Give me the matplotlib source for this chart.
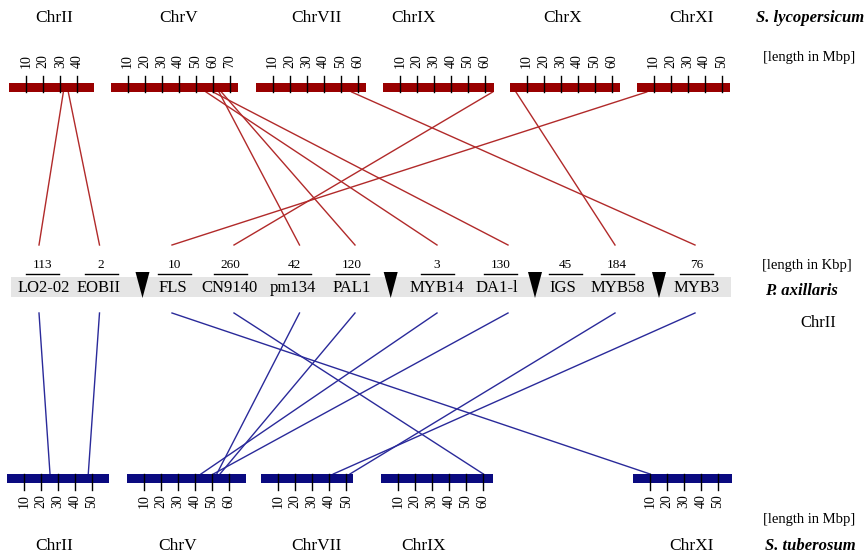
import matplotlib.pyplot as plt
from matplotlib.patches import Rectangle, Polygon

plt.rcParams['font.family'] = ['Liberation Serif', 'DejaVu Serif']

# ---- data ----
top_chroms = ['ChrII', 'ChrV', 'ChrVII', 'ChrIX', 'ChrX', 'ChrXI']
top_lengths = [50, 75, 65, 65, 65, 55]          # Mbp
bot_chroms = ['ChrII', 'ChrV', 'ChrVII', 'ChrIX', 'ChrXI']
bot_lengths = [60, 70, 54, 66, 58]              # Mbp

genes = ['LO2-02', 'EOBII', 'FLS', 'CN9140', 'pm134', 'PAL1',
         'MYB14', 'DA1-l', 'IGS', 'MYB58', 'MYB3']
gene_kbp = ['113', '2', '10', '260', '42', '120', '3', '130', '45', '184', '76']

# S. lycopersicum links (gene, chromosome, position in Mbp)
top_gene = ['LO2-02', 'EOBII', 'MYB14', 'DA1-l', 'pm134', 'PAL1',
            'MYB3', 'CN9140', 'MYB58', 'FLS']
top_chr = ['ChrII', 'ChrII', 'ChrV', 'ChrV', 'ChrV', 'ChrV',
           'ChrVII', 'ChrIX', 'ChrX', 'ChrXI']
top_pos = [31.8, 34.7, 56.1, 60.2, 63.7, 65.1, 56.5, 64.5, 3.8, 6.0]

# S. tuberosum links
bot_gene = ['LO2-02', 'EOBII', 'MYB14', 'DA1-l', 'pm134', 'PAL1',
            'MYB3', 'MYB58', 'CN9140', 'FLS']
bot_chr = ['ChrII', 'ChrII', 'ChrV', 'ChrV', 'ChrV', 'ChrV',
           'ChrVII', 'ChrVII', 'ChrIX', 'ChrXI']
bot_pos = [25.3, 47.8, 43.5, 50.8, 52.8, 54.7, 42.4, 52.2, 60.2, 10.0]

# ---- layout (pixels) ----
SCALE = 1.7                                   # px per Mbp
top_x0 = [9.3, 110.7, 255.6, 383, 509.5, 636.5]
top_title_x = [54, 179, 316, 414, 563, 692]
bot_x0 = [7, 127, 261.2, 381, 633]
bot_title_x = [54, 178, 316, 423, 692]
gene_x = [43.8, 99, 173, 229, 293, 352, 437, 497, 562.5, 617.5, 696.5]
kbp_x = [42.7, 101, 174, 230, 294, 352, 437, 500.7, 565.7, 617, 696.7]
link_x = [39, 99.5, 172, 234, 299.5, 355, 437, 508, 565, 615, 695]
break_x = [142.5, 390.7, 535, 659]

TOP_Y, BOT_Y, BAR_H = 83, 474, 9
RED_BAR, RED_LINE = '#990000', '#b12a2a'
BLUE_BAR, BLUE_LINE = '#0a0a80', '#2a2a9a'

fig = plt.figure(figsize=(8.68, 5.54), dpi=100)
ax = fig.add_axes([0, 0, 1, 1])
ax.set_xlim(0, 868)
ax.set_ylim(554, 0)
ax.axis('off')


def draw_chrom(x0, length, y, color, top):
    ax.add_patch(Rectangle((x0, y), length * SCALE, BAR_H, color=color, lw=0, zorder=3))
    for t in range(10, length, 10):
        tx = x0 + t * SCALE
        if top:
            ax.plot([tx, tx], [y - 7, y + BAR_H], color='black', lw=1, zorder=4)
            ax.text(tx, y - 15, str(t), rotation=90, ha='center', va='bottom', fontsize=10)
        else:
            ax.plot([tx, tx], [y, y + BAR_H + 7], color='black', lw=1, zorder=4)
            ax.text(tx, y + BAR_H + 11, str(t), rotation=90, ha='center', va='top', fontsize=10)


for name, ln, x0, tx in zip(top_chroms, top_lengths, top_x0, top_title_x):
    draw_chrom(x0, ln, TOP_Y, RED_BAR, True)
    ax.text(tx, 18, name, ha='center', va='center', fontsize=12.5)

for name, ln, x0, tx in zip(bot_chroms, bot_lengths, bot_x0, bot_title_x):
    draw_chrom(x0, ln, BOT_Y, BLUE_BAR, False)
    ax.text(tx, 546, name, ha='center', va='center', fontsize=12.5)

# links
for g, c, p in zip(top_gene, top_chr, top_pos):
    x_chr = top_x0[top_chroms.index(c)] + p * SCALE
    x_gene = link_x[genes.index(g)]
    ax.plot([x_chr, x_gene], [TOP_Y + BAR_H, 245], color=RED_LINE, lw=1.0, zorder=2)

for g, c, p in zip(bot_gene, bot_chr, bot_pos):
    x_chr = bot_x0[bot_chroms.index(c)] + p * SCALE
    x_gene = link_x[genes.index(g)]
    ax.plot([x_gene, x_chr], [313, BOT_Y], color=BLUE_LINE, lw=1.0, zorder=2)

# P. axillaris band
ax.add_patch(Rectangle((11, 277), 720, 20, color='#e5e5e5', lw=0, zorder=1))
for g, k, gx, kx in zip(genes, gene_kbp, gene_x, kbp_x):
    ax.text(gx, 288, g, ha='center', va='center', fontsize=12, zorder=3)
    ax.text(kx, 265, k, ha='center', va='center', fontsize=9.5)
    ax.plot([kx - 16.5, kx + 16.5], [273.7, 273.7], color='black', lw=1)
for bx in break_x:
    ax.add_patch(Polygon([(bx - 7, 272), (bx + 7, 272), (bx, 298)],
                         closed=True, color='black', lw=0, zorder=4))

# right-hand labels
ax.text(810, 18, 'S. lycopersicum', ha='center', va='center', fontsize=12,
        fontweight='bold', fontstyle='italic')
ax.text(809, 58, '[length in Mbp]', ha='center', va='center', fontsize=10.5)
ax.text(807, 265, '[length in Kbp]', ha='center', va='center', fontsize=10.5)
ax.text(801, 291, 'P. axillaris', ha='center', va='center', fontsize=12,
        fontweight='bold', fontstyle='italic')
ax.text(818, 323, 'ChrII', ha='center', va='center', fontsize=12)
ax.text(809, 520, '[length in Mbp]', ha='center', va='center', fontsize=10.5)
ax.text(810, 546, 'S. tuberosum', ha='center', va='center', fontsize=12,
        fontweight='bold', fontstyle='italic')

fig.savefig('out.png', dpi=100)
